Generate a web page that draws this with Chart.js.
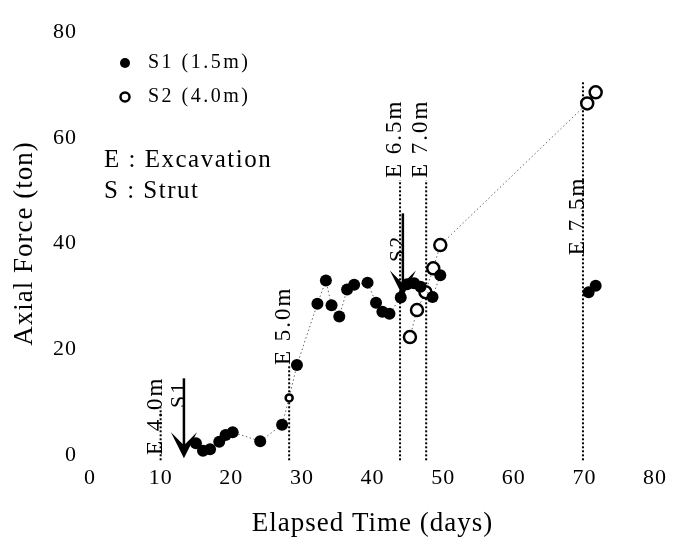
<!DOCTYPE html>
<html><head><meta charset="utf-8">
<script src="https://cdn.jsdelivr.net/npm/chart.js@4.4.1/dist/chart.umd.min.js"></script>
<style>html,body{margin:0;padding:0;background:#fff}</style>
</head><body>
<canvas id="c" width="678" height="540" style="width:678px;height:540px;display:block"></canvas>
<script>
// ---- data ----
const s1Days = [15.0, 16.0, 17.0, 18.3, 19.2, 20.2, 24.1, 27.2, 28.2, 29.3, 32.2, 33.4, 34.2, 35.3, 36.4, 37.4, 39.3, 40.5, 41.4, 42.4, 44.0, 44.9, 45.9, 46.8, 48.5, 49.6, null, 70.6, 71.6];
const s1Tons = [2.2, 0.8, 1.1, 2.5, 3.8, 4.3, 2.6, 5.7, 10.8, 17.0, 28.6, 33.0, 28.3, 26.2, 31.3, 32.2, 32.6, 28.8, 27.1, 26.7, 29.8, 32.3, 32.5, 31.8, 29.9, 34.0, null, 30.8, 32.0];
const s2Days = [45.3, 46.3, 47.5, 48.6, 49.6, 70.4, 71.6];
const s2Tons = [22.3, 27.4, 30.8, 35.3, 39.7, 66.5, 68.6];
const xTicks = [0, 10, 20, 30, 40, 50, 60, 70, 80];
const yTicks = [0, 20, 40, 60, 80];
const excavationDays = [10.0, 28.2, 43.9, 47.6, 69.8];
const excavationLabels = ['E 4.0m', 'E 5.0m', 'E 6.5m', 'E 7.0m', 'E 7.5m'];
const excavationLineTops = [9.0, 17.0, 52.0, 52.0, 70.5];
const excavationLabelStarts = [0.0, 17.0, 52.4, 52.4, 37.8];
const strutLabels = ['S1', 'S2'];
const strutDays = [13.3, 44.3];
const strutFrom = [14.5, 45.7];
const strutTo = [-0.6, 30.0];
const strutLabelStarts = [8.9, 36.5];
const seriesNames = ['S1 (1.5m)', 'S2 (4.0m)'];
const keyLines = ['E : Excavation', 'S : Strut'];
// --------------

const FONT = '"Liberation Serif", "DejaVu Serif", serif';
const toXY = (ds, ts) => ds.map((d, i) => (d === null ? {x: null, y: null} : {x: d, y: ts[i]}));
const s1Data = toXY(s1Days, s1Tons);
const s2Data = toXY(s2Days, s2Tons);

const overlay = {
  id: 'overlay',
  beforeDraw(chart) {
    chart.ctx.letterSpacing = '1px';
  },
  beforeDatasetsDraw(chart) {
    const {ctx} = chart;
    const xs = chart.scales.x, ys = chart.scales.y;
    ctx.save();
    ctx.strokeStyle = '#000';
    ctx.lineWidth = 2;
    ctx.setLineDash([2, 2]);
    excavationDays.forEach((d, i) => {
      const x = xs.getPixelForValue(d);
      ctx.beginPath();
      ctx.moveTo(x, ys.getPixelForValue(-1));
      ctx.lineTo(x, ys.getPixelForValue(excavationLineTops[i]));
      ctx.stroke();
    });
    ctx.setLineDash([]);
    ctx.fillStyle = '#000';
    ctx.font = '23px ' + FONT;
    ctx.letterSpacing = '2px';
    ctx.textAlign = 'left';
    ctx.textBaseline = 'alphabetic';
    excavationDays.forEach((d, i) => {
      const x = xs.getPixelForValue(d) + 1;
      const y = ys.getPixelForValue(excavationLabelStarts[i]);
      ctx.save();
      ctx.translate(x, y);
      ctx.rotate(-Math.PI / 2);
      ctx.fillText(excavationLabels[i], 0, 0);
      ctx.restore();
    });
    ctx.restore();
  },
  afterDatasetsDraw(chart) {
    const {ctx, chartArea} = chart;
    const xs = chart.scales.x, ys = chart.scales.y;
    ctx.save();
    ctx.fillStyle = '#000';
    ctx.strokeStyle = '#000';
    strutDays.forEach((d, i) => {
      const x = xs.getPixelForValue(d);
      const y0 = ys.getPixelForValue(strutFrom[i]);
      const y1 = ys.getPixelForValue(strutTo[i]);
      ctx.lineWidth = 2.5;
      ctx.beginPath();
      ctx.moveTo(x, y0);
      ctx.lineTo(x, y1 - 10);
      ctx.stroke();
      ctx.beginPath();
      ctx.moveTo(x, y1);
      ctx.lineTo(x - 13, y1 - 26);
      ctx.lineTo(x, y1 - 13);
      ctx.lineTo(x + 13, y1 - 26);
      ctx.closePath();
      ctx.fill();
      ctx.font = '22px ' + FONT;
      ctx.letterSpacing = '2px';
      ctx.textAlign = 'left';
      ctx.textBaseline = 'alphabetic';
      ctx.save();
      ctx.translate(x + 1, ys.getPixelForValue(strutLabelStarts[i]));
      ctx.rotate(-Math.PI / 2);
      ctx.fillText(strutLabels[i], 0, 0);
      ctx.restore();
    });
    const lx = chartArea.left + 35, ly = chartArea.top + 31;
    ctx.beginPath();
    ctx.arc(lx, ly, 5, 0, Math.PI * 2);
    ctx.fill();
    ctx.beginPath();
    ctx.lineWidth = 2.5;
    ctx.arc(lx, ly + 34, 4.5, 0, Math.PI * 2);
    ctx.stroke();
    ctx.font = '20px ' + FONT;
    ctx.letterSpacing = '2.5px';
    ctx.textBaseline = 'middle';
    ctx.textAlign = 'left';
    ctx.fillText(seriesNames[0], lx + 23, ly);
    ctx.fillText(seriesNames[1], lx + 23, ly + 34);
    ctx.font = '25px ' + FONT;
    ctx.letterSpacing = '1.5px';
    ctx.fillText(keyLines[0], chartArea.left + 14, chartArea.top + 128);
    ctx.fillText(keyLines[1], chartArea.left + 14, chartArea.top + 159);
    ctx.restore();
  }
};

new Chart(document.getElementById('c'), {
  type: 'scatter',
  data: {
    datasets: [
      {
        label: seriesNames[0],
        data: s1Data,
        showLine: true,
        spanGaps: false,
        borderColor: '#666',
        borderWidth: 1,
        borderDash: [1.5, 2.5],
        pointRadius: s1Days.map((d, i) => (i === 8 ? 3.5 : 6)),
        pointBackgroundColor: s1Days.map((d, i) => (i === 8 ? '#fff' : '#000')),
        pointBorderColor: '#000',
        pointBorderWidth: s1Days.map((d, i) => (i === 8 ? 2.5 : 0)),
        clip: false
      },
      {
        label: seriesNames[1],
        data: s2Data,
        showLine: true,
        borderColor: '#666',
        borderWidth: 1,
        borderDash: [1.5, 2.5],
        pointRadius: 6,
        pointBackgroundColor: '#fff',
        pointBorderColor: '#000',
        pointBorderWidth: 2.5,
        clip: false
      }
    ]
  },
  options: {
    responsive: false,
    animation: false,
    devicePixelRatio: 1,
    layout: {padding: {left: 0, right: 23, top: 32, bottom: 0}},
    plugins: {legend: {display: false}, tooltip: {enabled: false}},
    scales: {
      x: {
        type: 'linear', min: 0, max: 80,
        afterBuildTicks: s => { s.ticks = xTicks.map(v => ({value: v})); },
        afterFit: s => { s.height = 85; },
        grid: {display: false, drawTicks: false},
        border: {display: false},
        ticks: {color: '#000', padding: 10, maxRotation: 0, font: {family: FONT, size: 22}},
        title: {display: true, text: 'Elapsed Time (days)', color: '#000', font: {family: FONT, size: 27}, padding: {top: 6, bottom: 0}}
      },
      y: {
        type: 'linear', min: 0, max: 80,
        afterBuildTicks: s => { s.ticks = yTicks.map(v => ({value: v})); },
        afterFit: s => { s.width = 90; },
        grid: {display: false, drawTicks: false},
        border: {display: false},
        ticks: {color: '#000', padding: 13, font: {family: FONT, size: 22}},
        title: {display: true, text: 'Axial Force (ton)', color: '#000', font: {family: FONT, size: 27}, padding: {top: 9, bottom: 0}}
      }
    }
  },
  plugins: [overlay]
});
</script>
</body></html>
